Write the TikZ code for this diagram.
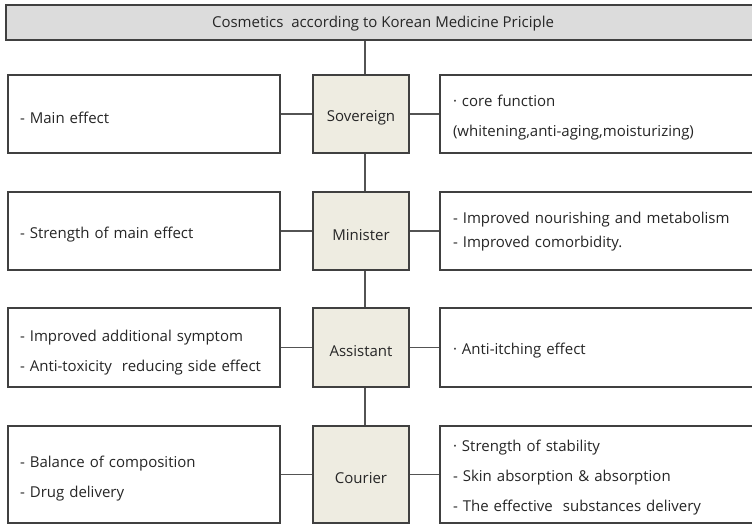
\documentclass[tikz,border=0pt]{standalone}
\usepackage{fontspec}
\setmainfont{Open Sans}
\definecolor{txt}{HTML}{262626}
\definecolor{edge}{HTML}{404040}
\definecolor{titlefill}{HTML}{DCDCDC}
\definecolor{midfill}{HTML}{EEECE1}
\begin{document}
\begin{tikzpicture}[x=1pt,y=-1pt,
  base/.style={draw=edge, line width=1.3pt, rectangle},
  lbox/.style={base, fill=white, minimum width=272pt},
  rbox/.style={base, fill=white, minimum width=330pt},
  mbox/.style={base, fill=midfill, minimum width=96pt},
  tbox/.style={base, fill=titlefill, minimum width=754pt, minimum height=35pt},
  lbl/.style={text=txt, font=\fontsize{15}{30}\selectfont, inner sep=0pt},
  ltxt/.style={lbl, text width=248pt, align=left},
  rtxt/.style={lbl, text width=304pt, align=left},
  ctxt/.style={lbl, align=center},
  link/.style={draw=edge!90, line width=1.3pt}]
\useasboundingbox (0,0) rectangle (752,524);
\node[tbox] (title) at (383,22.5) {};
\node[ctxt] (titlet) at ([yshift=-1.5pt]title.center) {Cosmetics\ \ according to Korean Medicine Priciple};
% row 1
\node[lbox, minimum height=78pt] (l1) at (144,114) {};
\node[mbox, minimum height=78pt] (m1) at (361,114) {};
\node[rbox, minimum height=78pt] (r1) at (605,114) {};
\node[ltxt] (l1t) at ([yshift=-4pt]l1.center) {- Main effect};
\node[ctxt] (m1t) at ([yshift=-4pt]m1.center) {Sovereign};
\node[rtxt] (r1t) at ([yshift=-4pt]r1.center) {· core function\\(whitening,anti-aging,moisturizing)};
% row 2
\node[lbox, minimum height=78pt] (l2) at (144,231) {};
\node[mbox, minimum height=78pt] (m2) at (361,231) {};
\node[rbox, minimum height=78pt] (r2) at (605,231) {};
\node[ltxt] (l2t) at ([yshift=-4pt]l2.center) {- Strength of main effect};
\node[ctxt] (m2t) at ([yshift=-4pt]m2.center) {Minister};
\node[rtxt, font=\fontsize{15}{24}\selectfont] (r2t) at ([yshift=-1pt]r2.center) {- Improved nourishing and metabolism\\- Improved comorbidity.};
% row 3
\node[lbox, minimum height=79pt] (l3) at (144,347.5) {};
\node[mbox, minimum height=79pt] (m3) at (361,347.5) {};
\node[rbox, minimum height=79pt] (r3) at (605,347.5) {};
\node[ltxt] (l3t) at ([yshift=-5pt]l3.center) {- Improved additional symptom\\- Anti-toxicity\ \ reducing side effect};
\node[ctxt] (m3t) at ([yshift=-4pt]m3.center) {Assistant};
\node[rtxt] (r3t) at ([yshift=-3pt]r3.center) {· Anti-itching effect};
% row 4
\node[lbox, minimum height=97pt] (l4) at (144,474.5) {};
\node[mbox, minimum height=97pt] (m4) at (361,474.5) {};
\node[rbox, minimum height=97pt] (r4) at (605,474.5) {};
\node[ltxt] (l4t) at ([yshift=-4pt]l4.center) {- Balance of composition\\- Drug delivery};
\node[ctxt] (m4t) at ([yshift=-4pt]m4.center) {Courier};
\node[rtxt] (r4t) at ([yshift=-3pt]r4.center) {· Strength of stability\\- Skin absorption \& absorption\\- The effective\ \ substances delivery};
% connectors
\foreach \i in {1,2,3,4}{
  \draw[link] (l\i.east) -- (m\i.west);
  \draw[link] (m\i.east) -- (r\i.west);
}
\draw[link] ([xshift=4pt]m1.north) -- ([xshift=4pt]m1.north |- title.south);
\draw[link] ([xshift=4pt]m1.south) -- ([xshift=4pt]m1.south |- m2.north);
\draw[link] ([xshift=4pt]m2.south) -- ([xshift=4pt]m2.south |- m3.north);
\draw[link] ([xshift=4pt]m3.south) -- ([xshift=4pt]m3.south |- m4.north);
\end{tikzpicture}
\end{document}
